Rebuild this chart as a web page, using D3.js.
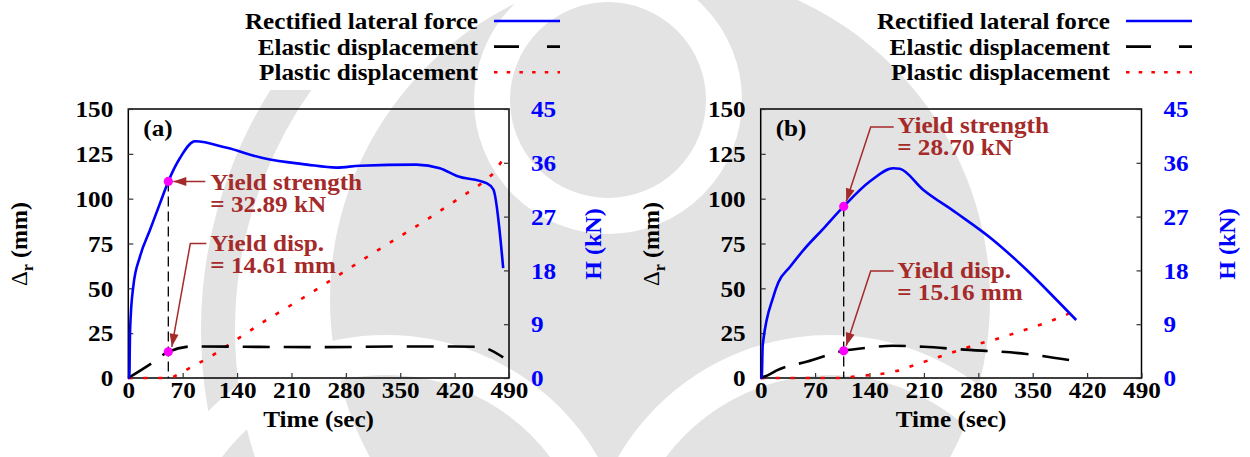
<!DOCTYPE html>
<html>
<head>
<meta charset="utf-8">
<script src="https://cdn.jsdelivr.net/npm/d3@7"></script>
<style>
  html, body { margin: 0; padding: 0; background: #fff; }
  svg { display: block; }
  svg text { font-family: "Liberation Serif", "Times New Roman", Times, serif; font-weight: bold; }
</style>
</head>
<body>
<svg id="chart" width="1250" height="457"></svg>
<script>
// ---- data -------------------------------------------------------------
const xTicks = [0, 70, 140, 210, 280, 350, 420, 490];
const leftTicks = [0, 25, 50, 75, 100, 125, 150];
const rightTicks = [0, 9, 18, 27, 36, 45];
const legendLabels = ["Rectified lateral force", "Elastic displacement", "Plastic displacement"];

// (a) time (s) vs rectified lateral force H (kN)
const forceA = [[0,0],[1.3,0],[2.2,7.5],[3.1,10.3],[6.4,15.3],[15,20.3],[28,24.8],[41,29.3],[51.5,32.89],[66.5,36.8],[86,39.6],[127,38.5],[173,36.8],[230,35.7],[268,35.2],[298,35.5],[371,35.7],[401,35.1],[423,33.8],[461,32.6],[470,31.5],[482.5,18.4]];
// (a) elastic displacement (mm)
const elasticA = [[0,0],[30,8.2],[51.5,14.61],[83,17.6],[150,17.4],[250,17.2],[350,17.6],[420,17.6],[452,17.3],[482.5,11.5]];
// (a) plastic displacement (mm)
const plasticA = [[0,0],[52,0],[58,0.6],[72,3.9],[106,11.9],[140,21.6],[175,31.6],[230,46],[315,69.6],[384,88.2],[452,107.7],[468,113.3],[481,121]];

// (b) time (s) vs rectified lateral force H (kN)
const forceB = [[0,0],[1.3,0],[2.6,5.5],[16.3,13.6],[22.8,16],[37.8,18.6],[55,21.4],[80.7,25],[106.8,28.70],[140.7,32.9],[170.7,35.1],[179,35],[209,31.5],[252,27.6],[299,23.1],[342,18.1],[385,12.5],[406,9.7]];
const elasticB = [[0,0],[5,0.8],[12,2.2],[20,4.1],[60,9.2],[106.8,15.16],[140,17],[170,18],[210,17.4],[256,16],[342,13.4],[397,10]];
const plasticB = [[0,0],[107,0],[125,1.1],[147,1.8],[160,2.6],[177,4.1],[210,9],[256,15.6],[280,19],[300,21.2],[334,26],[368,30.9],[386,33.9],[405,37.6]];

// yield points: time (s), H (kN), displacement (mm)
const yieldA = {t: 51.5, force: 32.89, disp: 14.61};
const yieldB = {t: 106.8, force: 28.70, disp: 15.16};

// ---- drawing ----------------------------------------------------------
const svg = d3.select("#chart");
const BLUE = "#0000ff", RED = "#ff0000", NOTE = "#a52a2a", DOT = "#ff00ff";
const FS = 24;

// faint background emblem
const WG = "#e3e3e3";
svg.append("defs").append("clipPath").attr("id", "leftArc")
  .append("rect").attr("x", 0).attr("y", 90).attr("width", 450).attr("height", 400);
const wm = svg.append("g");
wm.append("circle").attr("cx", 650).attr("cy", 330).attr("r", 432)
  .attr("fill", "none").attr("stroke", WG).attr("stroke-width", 34)
  .attr("clip-path", "url(#leftArc)");
wm.append("circle").attr("cx", 660).attr("cy", 300).attr("r", 330).attr("fill", WG);
wm.append("circle").attr("cx", 608).attr("cy", 100).attr("r", 116)
  .attr("fill", "none").attr("stroke", "#fff").attr("stroke-width", 36);
wm.append("circle").attr("cx", 830).attr("cy", 580).attr("r", 225)
  .attr("fill", "none").attr("stroke", "#fff").attr("stroke-width", 40);
wm.append("circle").attr("cx", 386).attr("cy", 580).attr("r", 225)
  .attr("fill", "none").attr("stroke", "#fff").attr("stroke-width", 40);

function panel(cfg) {
  const g = svg.append("g");
  const x = d3.scaleLinear([0, 490], [cfg.left, cfg.right]);
  const yL = d3.scaleLinear([0, 150], [378, 109]);
  const yR = d3.scaleLinear([0, 45], [378, 109]);

  // frame
  g.append("rect").attr("x", cfg.left).attr("y", 109)
    .attr("width", cfg.right - cfg.left).attr("height", 269)
    .attr("fill", "none").attr("stroke", "#000").attr("stroke-width", 1.5);

  // axes (inward ticks)
  const ax = g.append("g").attr("transform", `translate(0,378)`)
    .call(d3.axisBottom(x).tickValues(xTicks).tickSizeInner(-5).tickSizeOuter(0).tickPadding(3));
  const al = g.append("g").attr("transform", `translate(${cfg.left},0)`)
    .call(d3.axisLeft(yL).tickValues(leftTicks).tickSizeInner(-5).tickSizeOuter(0).tickPadding(15));
  const ar = g.append("g").attr("transform", `translate(${cfg.right},0)`)
    .call(d3.axisRight(yR).tickValues(rightTicks).tickSizeInner(-5).tickSizeOuter(0).tickPadding(22));
  [ax, al, ar].forEach(a => {
    a.attr("font-family", null).attr("font-size", null);
    a.select(".domain").remove();
    a.selectAll("line").attr("stroke", "#333").attr("stroke-width", 1.2);
    a.selectAll("text").attr("font-size", FS).attr("fill", "#000");
  });
  ar.selectAll("text").attr("fill", BLUE);

  // axis titles
  g.append("text").attr("x", (cfg.left + cfg.right) / 2).attr("y", 427)
    .attr("text-anchor", "middle").attr("font-size", FS).text("Time (sec)");
  const lt = g.append("text").attr("class", "rot")
    .attr("transform", `translate(${cfg.yTitleX},244) rotate(-90)`)
    .attr("text-anchor", "middle").attr("font-size", FS);
  lt.append("tspan").attr("font-weight", "normal").attr("font-size", 23).text("Δ");
  lt.append("tspan").attr("font-size", 16).attr("dy", 6).text("r");
  lt.append("tspan").attr("dy", -6).text(" (mm)");
  g.append("text").attr("class", "rot")
    .attr("transform", `translate(${cfg.hTitleX},244) rotate(-90)`)
    .attr("text-anchor", "middle").attr("font-size", FS).attr("fill", BLUE).text("H (kN)");

  // panel tag
  g.append("text").attr("x", cfg.left + 15).attr("y", 136).attr("font-size", FS).text(cfg.tag);

  // series
  const lineL = d3.line().x(d => x(d[0])).y(d => yL(d[1]));
  const lineR = d3.line().x(d => x(d[0])).y(d => yR(d[1])).curve(d3.curveMonotoneX);
  g.append("path").datum(cfg.plastic).attr("d", lineL).attr("fill", "none")
    .attr("stroke", RED).attr("stroke-width", 2.6).attr("stroke-dasharray", "4,11");
  g.append("path").datum(cfg.elastic).attr("d", lineL.curve(d3.curveMonotoneX)).attr("fill", "none")
    .attr("stroke", "#000").attr("stroke-width", 2.6).attr("stroke-dasharray", "27,14");
  g.append("path").datum(cfg.force).attr("d", lineR).attr("fill", "none")
    .attr("stroke", BLUE).attr("stroke-width", 2.6).attr("stroke-linejoin", "round");

  // yield markers
  const yx = x(cfg.yld.t), yF = yR(cfg.yld.force), yD = yL(cfg.yld.disp);
  g.append("line").attr("x1", yx).attr("x2", yx).attr("y1", yF).attr("y2", 378)
    .attr("stroke", "#000").attr("stroke-width", 1.3).attr("stroke-dasharray", "10,5");

  // annotations
  const arrow = (pts) => {
    g.append("path").attr("d", d3.line()(pts)).attr("fill", "none")
      .attr("stroke", NOTE).attr("stroke-width", 1.5);
    const [p, q] = pts.slice(-2);
    const a = Math.atan2(q[1] - p[1], q[0] - p[0]);
    const L = 13, W = 4.5;
    const bx = q[0] - L * Math.cos(a), by = q[1] - L * Math.sin(a);
    g.append("path").attr("d", d3.line()([
      q, [bx + W * Math.sin(a), by - W * Math.cos(a)], [bx - W * Math.sin(a), by + W * Math.cos(a)]
    ]) + "Z").attr("fill", NOTE);
  };
  const note = (tx, ty, l1, l2) => {
    const t = g.append("text").attr("x", tx).attr("y", ty).attr("font-size", FS).attr("fill", NOTE);
    t.append("tspan").attr("x", tx).text(l1);
    t.append("tspan").attr("x", tx).attr("dy", 21.5).text(l2);
  };
  cfg.notes(arrow, note, yx, yF, yD);

  g.append("circle").attr("cx", yx).attr("cy", yF).attr("r", 4.6).attr("fill", DOT);
  g.append("circle").attr("cx", yx).attr("cy", yD).attr("r", 4.6).attr("fill", DOT);

  // legend
  const styles = [
    {stroke: BLUE, dash: null},
    {stroke: "#000", dash: "25,28"},
    {stroke: RED, dash: "3.5,9.2"}
  ];
  legendLabels.forEach((lab, i) => {
    const yy = 21 + i * 25.6;
    g.append("text").attr("x", cfg.legendX).attr("y", yy + 8)
      .attr("text-anchor", "end").attr("font-size", FS).text(lab);
    g.append("line").attr("x1", cfg.legendX + 16).attr("x2", cfg.legendX + 82)
      .attr("y1", yy).attr("y2", yy).attr("stroke", styles[i].stroke)
      .attr("stroke-width", 2.6).attr("stroke-dasharray", styles[i].dash);
  });
}

panel({
  left: 128.3, right: 509, tag: "(a)", yTitleX: 27, hTitleX: 601, legendX: 478,
  force: forceA, elastic: elasticA, plastic: plasticA, yld: yieldA,
  notes: (arrow, note, yx, yF, yD) => {
    arrow([[yx + 37, yF], [yx + 5, yF]]);
    note(yx + 42, yF + 9, "Yield strength", `= ${yieldA.force.toFixed(2)} kN`);
    arrow([[yx + 38, 243.5], [yx + 22, 243.5], [yx + 3.5, yD - 5]]);
    note(yx + 42, 251.5, "Yield disp.", `= ${yieldA.disp.toFixed(2)} mm`);
  }
});
panel({
  left: 760.7, right: 1141.5, tag: "(b)", yTitleX: 659, hTitleX: 1235, legendX: 1110,
  force: forceB, elastic: elasticB, plastic: plasticB, yld: yieldB,
  notes: (arrow, note, yx, yF, yD) => {
    arrow([[yx + 50, 127], [yx + 27, 127], [yx + 2.5, yF - 5]]);
    note(yx + 53.5, 133.5, "Yield strength", `= ${yieldB.force.toFixed(2)} kN`);
    arrow([[yx + 50, 271], [yx + 27, 271], [yx + 2.5, yD - 5]]);
    note(yx + 53.5, 278.5, "Yield disp.", `= ${yieldB.disp.toFixed(2)} mm`);
  }
});

// widen the upright labels slightly to the printed letter proportions
svg.selectAll("text").filter(function () { return !this.classList.contains("rot"); })
  .each(function () {
    const ax = +this.getAttribute("x") || 0;
    d3.select(this).attr("transform", `translate(${ax},0) scale(1.05,1) translate(${-ax},0)`);
  });
</script>
</body>
</html>
